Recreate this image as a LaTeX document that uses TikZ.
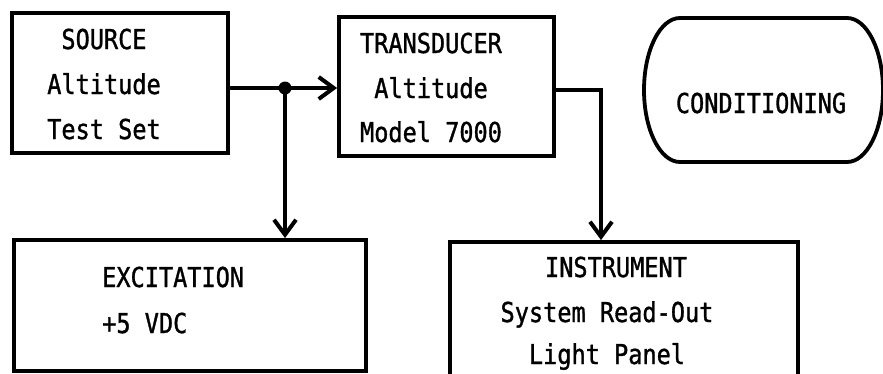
\documentclass[tikz,border=0pt]{standalone}
\usepackage{fontspec}
\setmonofont[FakeStretch=0.86,FakeBold=1.2]{DejaVu Sans Mono}
\usetikzlibrary{arrows.meta}
\begin{document}
\begin{tikzpicture}[x=1pt,y=-1pt,
  box/.style={draw,line width=3.8pt,inner sep=0pt},
  lbl/.style={font=\fontsize{27.4}{30}\selectfont\ttfamily,anchor=base,inner sep=0pt},
  wire/.style={line width=3.5pt},
  conn/.style={line width=3.5pt,-{Straight Barb[length=15pt,width=22pt,line width=4pt]}}]
\clip (0,0) rectangle (883,373);
% boxes
\node[box,minimum width=216,minimum height=140] (src) at (120,83) {};
\node[box,minimum width=215,minimum height=139] (trn) at (446.5,86.5) {};
\node[box,minimum width=352,minimum height=131] (exc) at (190,305.5) {};
\node[box,minimum width=348,minimum height=158] (ins) at (624,321) {};
% conditioning stadium
\draw[line width=3.8pt] (680,18) -- (847,18)
  arc[start angle=-90,end angle=90,x radius=36,y radius=72]
  -- (680,162)
  arc[start angle=90,end angle=270,x radius=36,y radius=72] -- cycle;
% labels
\node[lbl] (s1) at (104,49) {SOURCE};
\node[lbl] (s2) at (104,94) {Altitude};
\node[lbl] (s3) at (104,139) {Test Set};
\node[lbl] (t1) at (431,53) {TRANSDUCER};
\node[lbl] (t2) at (431,98) {Altitude};
\node[lbl] (t3) at (431,142) {Model 7000};
\node[lbl] (c1) at (761,113) {CONDITIONING};
\node[lbl,anchor=base west] (e1) at (102,287) {EXCITATION};
\node[lbl,anchor=base west] (e2) at (102,333) {+5 VDC};
\node[lbl] (i1) at (616,277) {INSTRUMENT};
\node[lbl] (i2) at (607,322) {System Read-Out};
\node[lbl] (i3) at (607,364) {Light Panel};
% connectors
\coordinate (j) at (285,88);
\coordinate (k) at (601,90);
\draw[wire] (src.east |- j) -- (j);
\draw[conn] (j) -- (trn.west |- j);
\draw[conn] (j) -- (j |- exc.north);
\fill (j) circle (6.5);
\draw[conn] (trn.east |- k) -- (k) -- (k |- ins.north);
\end{tikzpicture}
\end{document}
